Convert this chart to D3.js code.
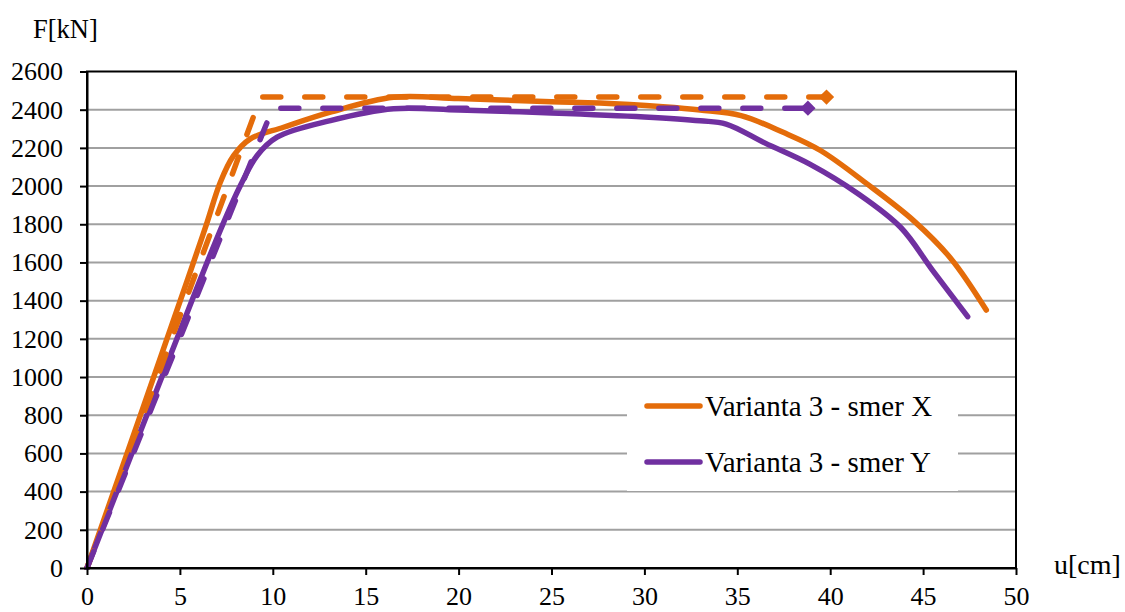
<!DOCTYPE html>
<html><head><meta charset="utf-8">
<script src="https://cdn.jsdelivr.net/npm/d3@7"></script>
<style>body{margin:0;background:#fff}svg{display:block}text{font-family:"Liberation Serif","Times New Roman",serif;fill:#000}</style>
</head><body>
<svg id="c" width="1125" height="612"></svg>
<script>
const xTicks = [0,5,10,15,20,25,30,35,40,45,50];
const yTicks = [0,200,400,600,800,1000,1200,1400,1600,1800,2000,2200,2400,2600];
const seriesNames = ["Varianta 3 - smer X","Varianta 3 - smer Y"];
const xU = [0,5.42,6.46,7.17,7.89,8.79,10.58,13.1,16.5,20,25,27.6,31,33,35.2,37.5,39.5,42,44.5,46.5,48.4];
const xF = [0,1512,1809,2019,2159,2247,2308,2387,2465,2458,2442,2435,2415,2398,2369,2280,2185,2010,1818,1620,1351];
const yU = [0,6.1,7.35,8.25,9.15,10.23,13.1,16.5,20,25,30,33,34.4,36.5,38.9,41.5,43.8,45.5,47.4];
const yF = [0,1512,1809,2002,2159,2256,2343,2405,2398,2383,2362,2342,2325,2225,2115,1960,1783,1560,1316];
const xBiU = [0,9.35,39.8];
const xBiF = [0,2466,2466];
const yBiU = [0,10.0,38.8];
const yBiF = [0,2408,2408];
const colors = ["#E46C0A","#7030A0"];

const svg = d3.select("#c");
const L=87, R=1016, T=71.5, B=568;
const x = d3.scaleLinear().domain([0,50]).range([L,R]);
const y = d3.scaleLinear().domain([0,2600]).range([B,T]);

// grid
svg.append("g").selectAll("line").data(yTicks.slice(1,-1)).join("line")
  .attr("x1",L).attr("x2",R).attr("y1",d=>y(d)).attr("y2",d=>y(d))
  .attr("stroke","#a0a0a0").attr("stroke-width",2);

const line = d3.line().x(d=>x(d[0])).y(d=>y(d[1])).curve(d3.curveCatmullRom.alpha(0.5));
const lineStraight = d3.line().x(d=>x(d[0])).y(d=>y(d[1]));

const sX = xU.map((u,i)=>[u,xF[i]]);
const sY = yU.map((u,i)=>[u,yF[i]]);
const bX = xBiU.map((u,i)=>[u,xBiF[i]]);
const bY = yBiU.map((u,i)=>[u,yBiF[i]]);

svg.append("clipPath").attr("id","cp").append("rect").attr("x",L-3).attr("y",T-10).attr("width",R-L+13).attr("height",B-T+12);
const g = svg.append("g").attr("clip-path","url(#cp)");

[[sX,0],[sY,1]].forEach(([d,i])=>{
  g.append("path").attr("d",line(d)).attr("fill","none").attr("stroke",colors[i])
   .attr("stroke-width",5.5).attr("stroke-linejoin","round").attr("stroke-linecap","round");
});
[[bX,0],[bY,1]].forEach(([d,i])=>{
  g.append("path").attr("d",lineStraight(d)).attr("fill","none").attr("stroke",colors[i])
   .attr("stroke-width",5.5).attr("stroke-dasharray","18,24").attr("stroke-linecap","round");
  const last = d[d.length-1];
  g.append("path").attr("d",d3.symbol(d3.symbolDiamond2,150)())
   .attr("transform",`translate(${x(last[0])},${y(last[1])})`).attr("fill",colors[i]);
});

// frame
svg.append("rect").attr("x",L).attr("y",T).attr("width",R-L).attr("height",B-T)
  .attr("fill","none").attr("stroke","#000").attr("stroke-width",2);

// axes
const fmt = d3.format("d");
const xa = svg.append("g").attr("transform",`translate(0,${B})`)
  .call(d3.axisBottom(x).tickValues(xTicks).tickFormat(fmt).tickSize(7).tickSizeOuter(0).tickPadding(12));
const ya = svg.append("g").attr("transform",`translate(${L},0)`)
  .call(d3.axisLeft(y).tickValues(yTicks).tickFormat(fmt).tickSize(7).tickSizeOuter(0).tickPadding(17));
[xa,ya].forEach(a=>{
  a.attr("font-family",null).attr("font-size",null);
  a.select(".domain").attr("stroke","#000").attr("stroke-width",2);
  a.selectAll(".tick line").attr("stroke","#000").attr("stroke-width",2);
  a.selectAll("text").attr("font-family","Liberation Serif").attr("font-size",26).attr("fill","#000");
});

svg.append("text").attr("x",33).attr("y",38).attr("font-size",26.5).text("F[kN]");
svg.append("text").attr("x",1054).attr("y",574).attr("font-size",28).text("u[cm]");

// legend
const lg = svg.append("g");
lg.append("rect").attr("x",627).attr("y",378).attr("width",331).attr("height",113).attr("fill","#fff");
seriesNames.forEach((n,i)=>{
  const yy = [406,462][i];
  lg.append("line").attr("x1",647).attr("x2",700).attr("y1",yy).attr("y2",yy)
    .attr("stroke",colors[i]).attr("stroke-width",5.5).attr("stroke-linecap","round");
  lg.append("text").attr("x",705).attr("y",yy+10).attr("font-size",29).text(n);
});
</script>
</body></html>
